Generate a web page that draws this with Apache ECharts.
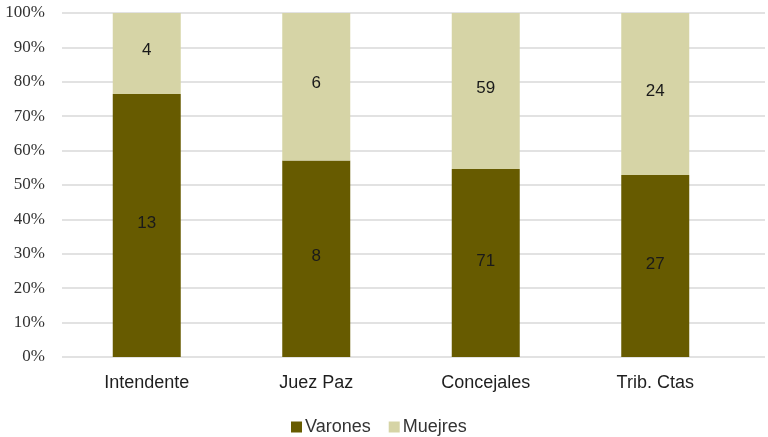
<!DOCTYPE html>
<html>
<head>
<meta charset="utf-8">
<script src="https://cdn.jsdelivr.net/npm/echarts@6/dist/echarts.min.js"></script>
<style>
  html, body { margin: 0; padding: 0; background: #ffffff; }
  #chart { width: 768px; height: 437px; }
</style>
</head>
<body>
<div id="chart"></div>
<script>
// Cargos and counts by sex
const categories = ['Intendente', 'Juez Paz', 'Concejales', 'Trib. Ctas'];
const varones = [13, 8, 71, 27];
const mujeres = [4, 6, 59, 24];
const seriesNames = ['Varones', 'Muejres'];
const yTicks = [0, 10, 20, 30, 40, 50, 60, 70, 80, 90, 100];

// Share of each group within its cargo (100% stacked)
const pct = (a, b) => a.map((v, i) => v / (v + b[i]) * 100);
const varonesPct = pct(varones, mujeres);
const mujeresPct = pct(mujeres, varones);

const sans = 'Liberation Sans, Arial, sans-serif';
const labelStyle = {
  show: true,
  position: 'inside',
  color: '#1a1a1a',
  fontFamily: sans,
  fontSize: 17
};

const chart = echarts.init(document.getElementById('chart'), null, { renderer: 'canvas' });
chart.setOption({
  animation: false,
  backgroundColor: '#ffffff',
  grid: [
    { left: 62, right: 3, top: 13, bottom: 80 },
    { left: 62, right: 28, top: 13, bottom: 80 }
  ],
  legend: {
    data: seriesNames,
    bottom: -4,
    left: 286,
    itemWidth: 11,
    itemHeight: 11,
    itemGap: 18,
    icon: 'rect',
    textStyle: { fontFamily: sans, fontSize: 18, color: '#333333', padding: [0, 0, 0, -2] }
  },
  xAxis: [
    { type: 'value', gridIndex: 0, show: false, min: 0, max: 1 },
    {
      type: 'category', gridIndex: 1, data: categories,
      axisLine: { show: false }, axisTick: { show: false },
      axisLabel: { margin: 17, fontFamily: sans, fontSize: 18, color: '#1e1e1e' }
    }
  ],
  yAxis: [
    {
      type: 'value', gridIndex: 0, min: 0, max: 100, interval: 10,
      axisLine: { show: false }, axisTick: { show: false },
      splitLine: { lineStyle: { color: '#d9d9d9', width: 1.5 } },
      axisLabel: {
        margin: 17,
        fontFamily: 'Liberation Serif, Times New Roman, serif', fontSize: 17, color: '#333333',
        formatter: v => yTicks.includes(v) ? v + '%' : ''
      }
    },
    { type: 'value', gridIndex: 1, min: 0, max: 100, show: false }
  ],
  series: [
    {
      name: seriesNames[0], type: 'bar', stack: 'total',
      xAxisIndex: 1, yAxisIndex: 1,
      barWidth: 68,
      data: varonesPct,
      itemStyle: { color: '#675b00' },
      label: Object.assign({}, labelStyle, { offset: [0, -2], formatter: p => varones[p.dataIndex] })
    },
    {
      name: seriesNames[1], type: 'bar', stack: 'total',
      xAxisIndex: 1, yAxisIndex: 1,
      barWidth: 68,
      data: mujeresPct,
      itemStyle: { color: '#d6d4a6' },
      label: Object.assign({}, labelStyle, { offset: [0, -3], formatter: p => mujeres[p.dataIndex] })
    }
  ]
});
</script>
</body>
</html>
